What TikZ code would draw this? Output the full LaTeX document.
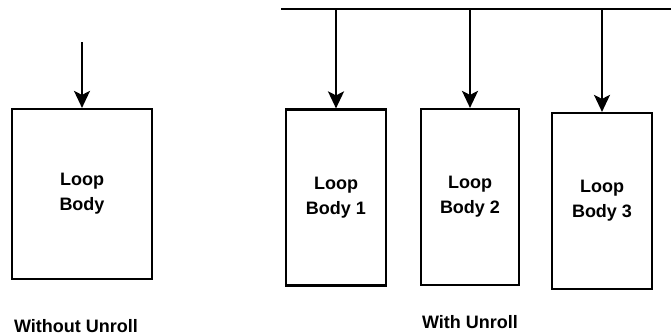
\documentclass[tikz,border=0pt]{standalone}
\usepackage{fontspec}
\setsansfont{Liberation Sans}
\usepackage{tikz}
\usetikzlibrary{arrows.meta, positioning, calc}
\tikzset{
  loopbox/.style={
    draw, line width=2.2pt, align=center, fill=white,
    font=\sffamily\bfseries\fontsize{18}{25}\selectfont,
    minimum width=100pt, minimum height=176pt
  },
  feedarrow/.style={
    -{Stealth[length=17pt, width=16pt, inset=4pt]}, line width=2pt
  },
  busline/.style={line width=2.2pt},
  caption/.style={
    font=\sffamily\bfseries\fontsize{18}{22}\selectfont, anchor=base
  },
}

\begin{document}
\begin{tikzpicture}[x=1pt, y=-1pt]
  \useasboundingbox (0,0) rectangle (671,335);

  % ── Single loop body ───────────────────────────────────────────
  \node[loopbox, minimum width=140pt, minimum height=170pt]
    (body) at (82,194) {Loop\\Body};
  \coordinate (in0) at (82,42);
  \draw[feedarrow] (in0) -- (body.north);
  \node[caption] (capA) at (76,332) {Without Unroll};

  % ── Unrolled copies ────────────────────────────────────────────
  \node[loopbox] (body1) at (336,197.5) {Loop\\Body 1};
  \node[loopbox, minimum width=98pt] (body2) at (470,197) {Loop\\Body 2};
  \node[loopbox] (body3) at (602,201) {Loop\\Body 3};

  % shared feed line across the top
  \coordinate (busL) at (281,9.3);
  \coordinate (busR) at (671,9.3);
  \draw[busline] (busL) -- (busR);
  \foreach \b in {body1, body2, body3}
    \draw[feedarrow] (\b.north |- busL) -- (\b.north);

  \node[caption] (capB) at (470,328) {With Unroll};
\end{tikzpicture}
\end{document}
